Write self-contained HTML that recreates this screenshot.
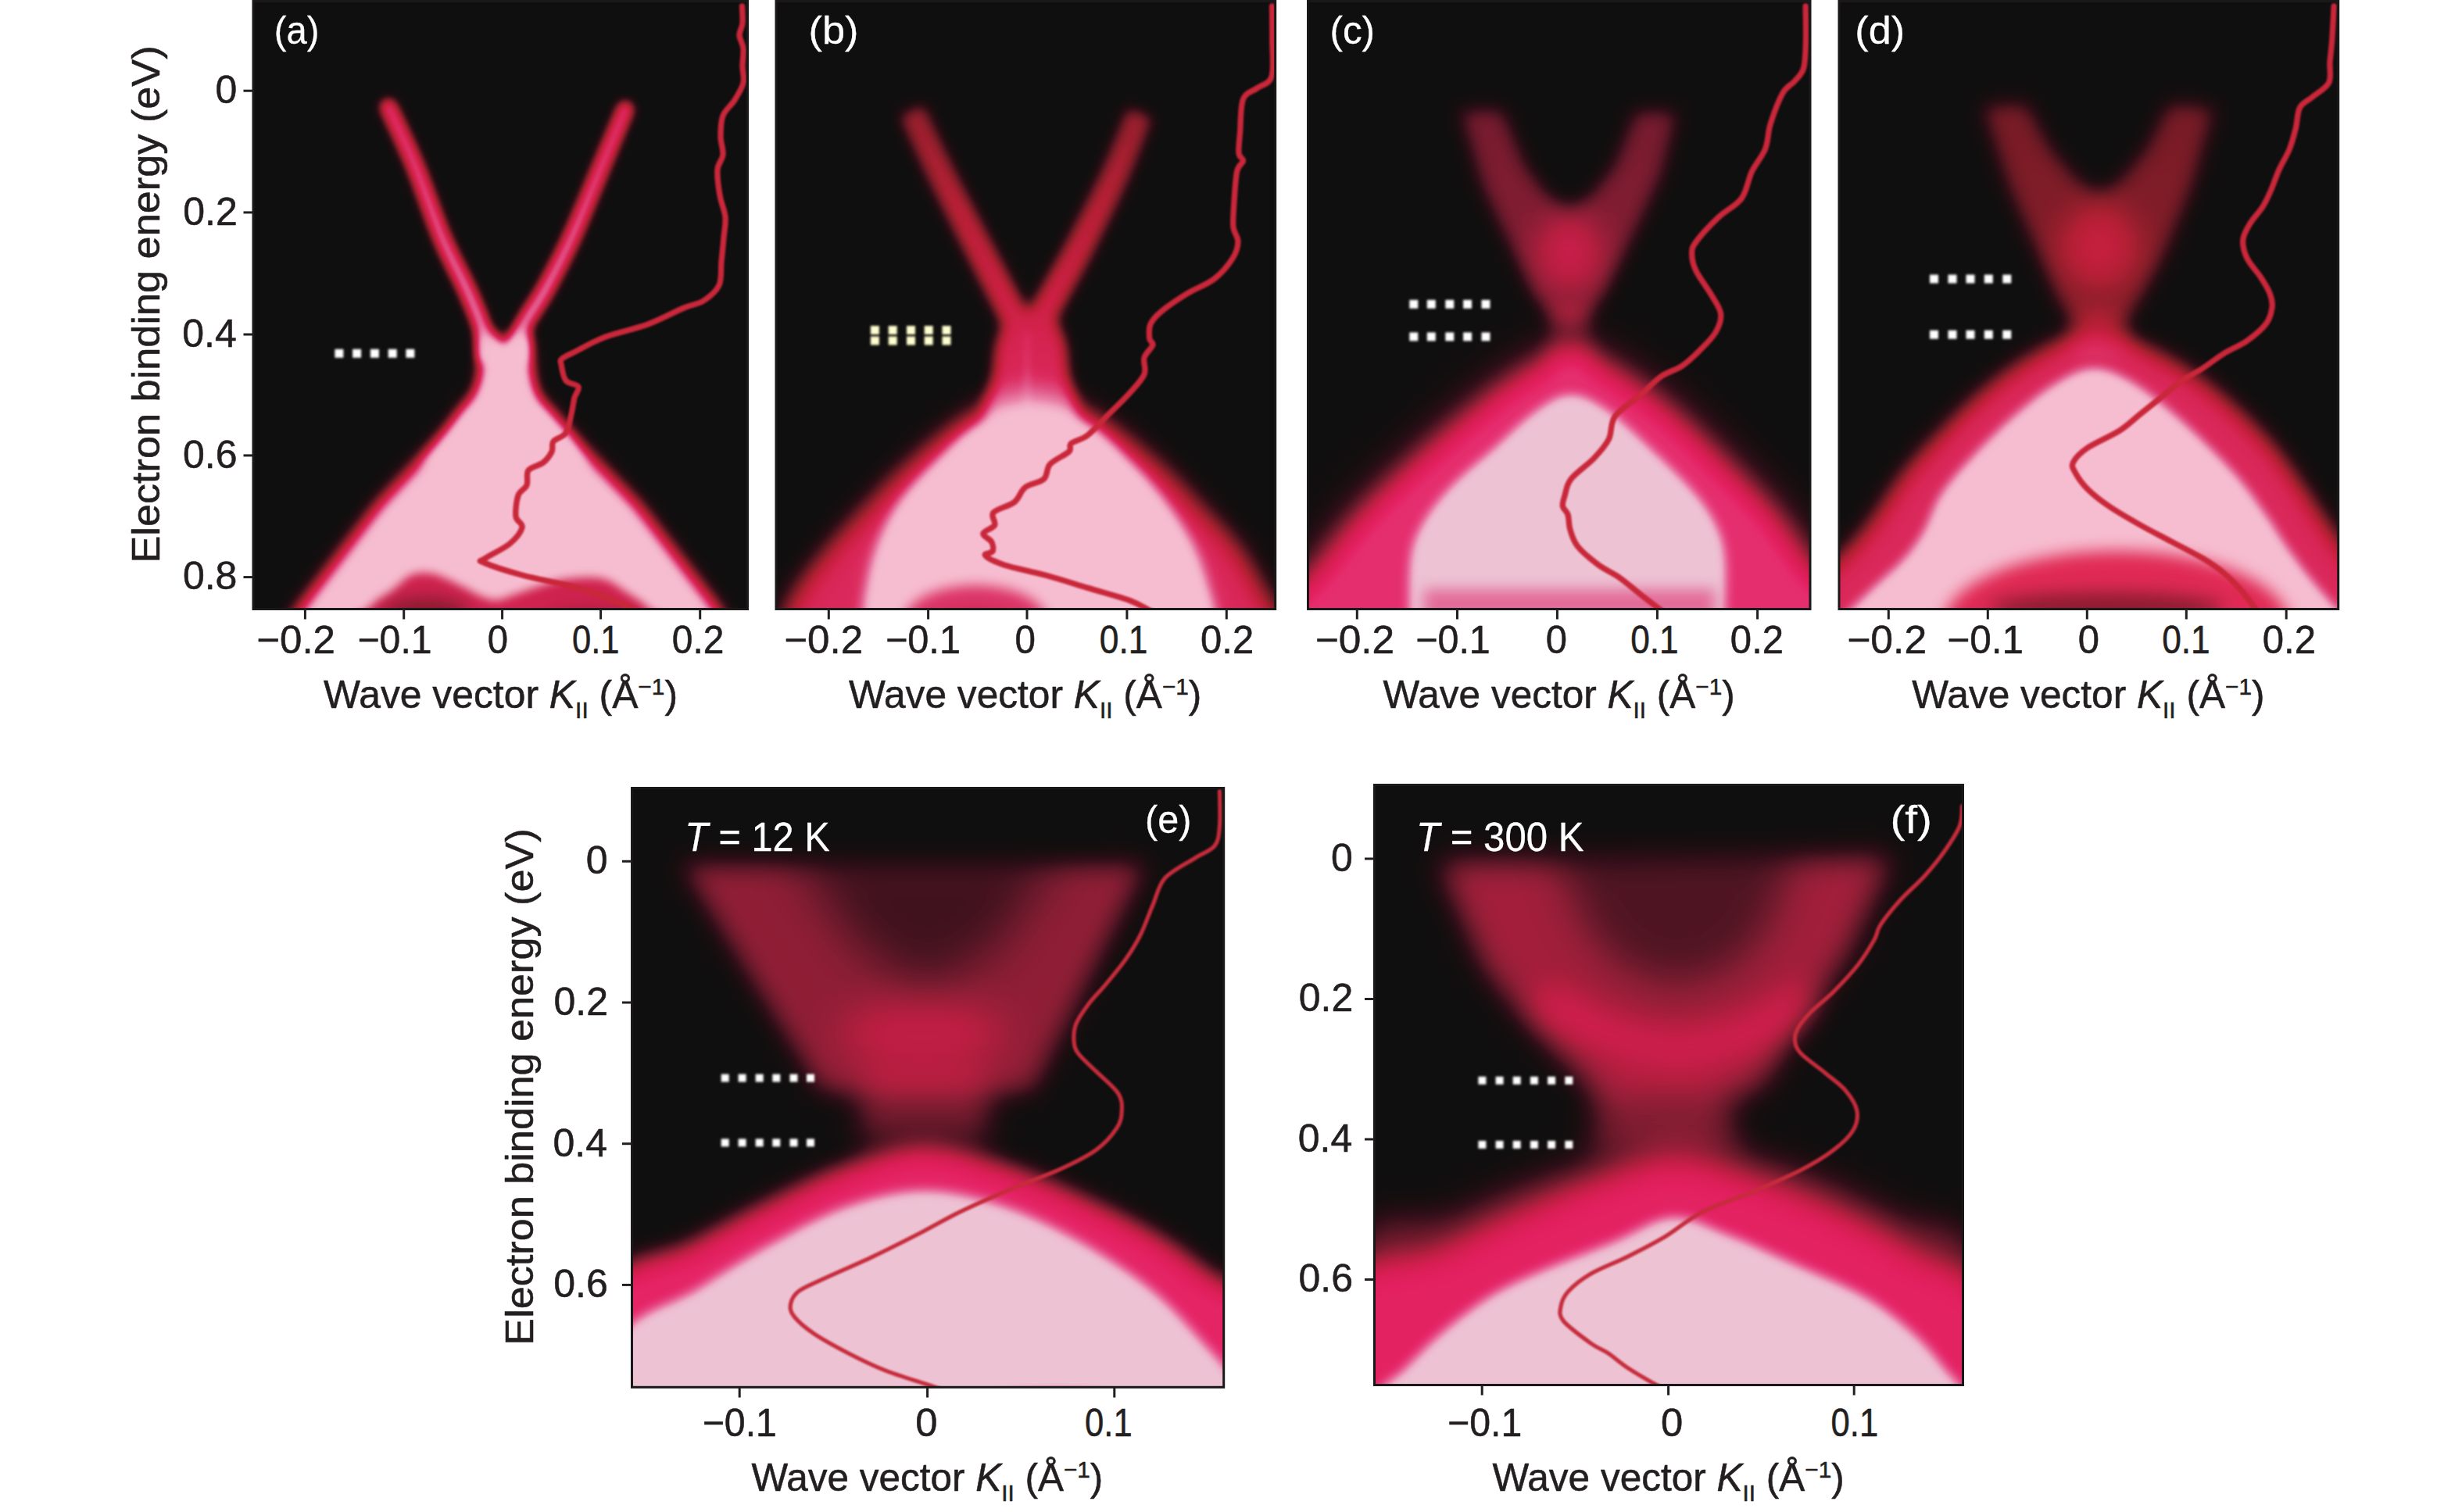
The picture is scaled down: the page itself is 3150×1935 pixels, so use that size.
<!DOCTYPE html>
<html><head><meta charset="utf-8"><title>ARPES figure</title>
<style>html,body{margin:0;padding:0;background:#fff}svg{display:block;font-family:"Liberation Sans", sans-serif}text{stroke-linejoin:round}text[fill='#231F20']{stroke:#231F20;stroke-width:0.55px}text[fill='#fff']{stroke:#fff;stroke-width:0.3px}</style>
</head><body>
<svg width="3150" height="1935" viewBox="0 0 3150 1935">
<defs>
<linearGradient id="g1" gradientUnits="userSpaceOnUse" x1="0" y1="137" x2="0" y2="455"><stop offset="0" stop-color="#fff" stop-opacity="0.6758"/><stop offset="1" stop-color="#fff" stop-opacity="0.8284"/></linearGradient>
<filter id="bl6_5" filterUnits="userSpaceOnUse" x="0" y="0" width="3150" height="1935" color-interpolation-filters="sRGB"><feGaussianBlur stdDeviation="6.5"/></filter>
<linearGradient id="g2" gradientUnits="userSpaceOnUse" x1="0" y1="140" x2="0" y2="455"><stop offset="0" stop-color="#fff" stop-opacity="0.6758"/><stop offset="1" stop-color="#fff" stop-opacity="0.8284"/></linearGradient>
<filter id="bl9" filterUnits="userSpaceOnUse" x="0" y="0" width="3150" height="1935" color-interpolation-filters="sRGB"><feGaussianBlur stdDeviation="9"/></filter>
<filter id="bl12" filterUnits="userSpaceOnUse" x="0" y="0" width="3150" height="1935" color-interpolation-filters="sRGB"><feGaussianBlur stdDeviation="12"/></filter>
<filter id="bl6" filterUnits="userSpaceOnUse" x="0" y="0" width="3150" height="1935" color-interpolation-filters="sRGB"><feGaussianBlur stdDeviation="6"/></filter>
<filter id="bl11" filterUnits="userSpaceOnUse" x="0" y="0" width="3150" height="1935" color-interpolation-filters="sRGB"><feGaussianBlur stdDeviation="11"/></filter>
<filter id="bl0_8" filterUnits="userSpaceOnUse" x="0" y="0" width="3150" height="1935" color-interpolation-filters="sRGB"><feGaussianBlur stdDeviation="0.8"/></filter>
<filter id="bl1_8" filterUnits="userSpaceOnUse" x="0" y="0" width="3150" height="1935" color-interpolation-filters="sRGB"><feGaussianBlur stdDeviation="1.8"/></filter>
<linearGradient id="g3" gradientUnits="userSpaceOnUse" x1="0" y1="140" x2="0" y2="520"><stop offset="0" stop-color="#fff" stop-opacity="0.3706"/><stop offset="1" stop-color="#fff" stop-opacity="0.654"/></linearGradient>
<mask id="mk1" maskUnits="userSpaceOnUse" x="0" y="0" width="3150" height="1935"><rect x="0" y="0" width="3150" height="1935" fill="url(#g3)"/></mask>
<filter id="bl5" filterUnits="userSpaceOnUse" x="0" y="0" width="3150" height="1935" color-interpolation-filters="sRGB"><feGaussianBlur stdDeviation="5"/></filter>
<filter id="bl17" filterUnits="userSpaceOnUse" x="0" y="0" width="3150" height="1935" color-interpolation-filters="sRGB"><feGaussianBlur stdDeviation="17"/></filter>
<filter id="bl10" filterUnits="userSpaceOnUse" x="0" y="0" width="3150" height="1935" color-interpolation-filters="sRGB"><feGaussianBlur stdDeviation="10"/></filter>
<filter id="bl8" filterUnits="userSpaceOnUse" x="0" y="0" width="3150" height="1935" color-interpolation-filters="sRGB"><feGaussianBlur stdDeviation="8"/></filter>
<linearGradient id="g4" gradientUnits="userSpaceOnUse" x1="0" y1="140" x2="0" y2="400"><stop offset="0" stop-color="#fff" stop-opacity="0.2943"/><stop offset="1" stop-color="#fff" stop-opacity="0.3379"/></linearGradient>
<filter id="bl20" filterUnits="userSpaceOnUse" x="0" y="0" width="3150" height="1935" color-interpolation-filters="sRGB"><feGaussianBlur stdDeviation="20"/></filter>
<filter id="bl24" filterUnits="userSpaceOnUse" x="0" y="0" width="3150" height="1935" color-interpolation-filters="sRGB"><feGaussianBlur stdDeviation="24"/></filter>
<filter id="bl15" filterUnits="userSpaceOnUse" x="0" y="0" width="3150" height="1935" color-interpolation-filters="sRGB"><feGaussianBlur stdDeviation="15"/></filter>
<linearGradient id="g5" gradientUnits="userSpaceOnUse" x1="0" y1="135" x2="0" y2="410"><stop offset="0" stop-color="#fff" stop-opacity="0.2943"/><stop offset="1" stop-color="#fff" stop-opacity="0.3379"/></linearGradient>
<filter id="bl13" filterUnits="userSpaceOnUse" x="0" y="0" width="3150" height="1935" color-interpolation-filters="sRGB"><feGaussianBlur stdDeviation="13"/></filter>
<filter id="bl21" filterUnits="userSpaceOnUse" x="0" y="0" width="3150" height="1935" color-interpolation-filters="sRGB"><feGaussianBlur stdDeviation="21"/></filter>
<filter id="bl30" filterUnits="userSpaceOnUse" x="0" y="0" width="3150" height="1935" color-interpolation-filters="sRGB"><feGaussianBlur stdDeviation="30"/></filter>
<filter id="bl28" filterUnits="userSpaceOnUse" x="0" y="0" width="3150" height="1935" color-interpolation-filters="sRGB"><feGaussianBlur stdDeviation="28"/></filter>
<filter id="bl3" filterUnits="userSpaceOnUse" x="0" y="0" width="3150" height="1935" color-interpolation-filters="sRGB"><feGaussianBlur stdDeviation="3"/></filter>
<filter id="bl26" filterUnits="userSpaceOnUse" x="0" y="0" width="3150" height="1935" color-interpolation-filters="sRGB"><feGaussianBlur stdDeviation="26"/></filter>
<filter id="bl22" filterUnits="userSpaceOnUse" x="0" y="0" width="3150" height="1935" color-interpolation-filters="sRGB"><feGaussianBlur stdDeviation="22"/></filter>
<filter id="bl18" filterUnits="userSpaceOnUse" x="0" y="0" width="3150" height="1935" color-interpolation-filters="sRGB"><feGaussianBlur stdDeviation="18"/></filter>
<clipPath id="cpa"><rect x="323" y="0.5" width="634.5" height="780.0"/></clipPath>
<filter id="cma" filterUnits="userSpaceOnUse" x="321" y="-1.5" width="638.5" height="784.0" color-interpolation-filters="sRGB"><feComponentTransfer><feFuncR type="table" tableValues="0.063 0.083 0.105 0.142 0.178 0.225 0.282 0.338 0.394 0.448 0.502 0.555 0.604 0.653 0.702 0.734 0.765 0.795 0.817 0.836 0.854 0.867 0.874 0.882 0.894 0.906 0.919 0.933 0.947 0.953 0.959 0.962 0.965"/><feFuncG type="table" tableValues="0.059 0.057 0.055 0.057 0.058 0.065 0.076 0.087 0.096 0.104 0.111 0.118 0.120 0.123 0.125 0.125 0.125 0.125 0.133 0.142 0.152 0.189 0.250 0.311 0.380 0.449 0.518 0.587 0.656 0.693 0.725 0.740 0.745"/><feFuncB type="table" tableValues="0.059 0.061 0.064 0.074 0.085 0.097 0.111 0.124 0.136 0.146 0.156 0.166 0.178 0.191 0.203 0.222 0.242 0.261 0.288 0.317 0.347 0.391 0.449 0.507 0.561 0.615 0.666 0.714 0.761 0.785 0.804 0.813 0.816"/></feComponentTransfer></filter>
<clipPath id="cpb"><rect x="992" y="0.5" width="640.7" height="780.0"/></clipPath>
<filter id="cmb" filterUnits="userSpaceOnUse" x="990" y="-1.5" width="644.7" height="784.0" color-interpolation-filters="sRGB"><feComponentTransfer><feFuncR type="table" tableValues="0.063 0.083 0.105 0.142 0.178 0.225 0.282 0.338 0.394 0.448 0.502 0.555 0.604 0.653 0.702 0.734 0.765 0.795 0.817 0.836 0.854 0.867 0.874 0.882 0.894 0.906 0.919 0.933 0.947 0.953 0.959 0.962 0.965"/><feFuncG type="table" tableValues="0.059 0.057 0.055 0.057 0.058 0.065 0.076 0.087 0.096 0.104 0.111 0.118 0.120 0.123 0.125 0.125 0.125 0.125 0.133 0.142 0.152 0.189 0.250 0.311 0.380 0.449 0.518 0.587 0.656 0.693 0.725 0.740 0.745"/><feFuncB type="table" tableValues="0.059 0.061 0.064 0.074 0.085 0.097 0.111 0.124 0.136 0.146 0.156 0.166 0.178 0.191 0.203 0.222 0.242 0.261 0.288 0.317 0.347 0.391 0.449 0.507 0.561 0.615 0.666 0.714 0.761 0.785 0.804 0.813 0.816"/></feComponentTransfer></filter>
<clipPath id="cpc"><rect x="1672.5" y="0.5" width="644.5" height="780.0"/></clipPath>
<filter id="cmc" filterUnits="userSpaceOnUse" x="1670.5" y="-1.5" width="648.5" height="784.0" color-interpolation-filters="sRGB"><feComponentTransfer><feFuncR type="table" tableValues="0.063 0.083 0.105 0.142 0.178 0.225 0.282 0.338 0.394 0.448 0.502 0.555 0.608 0.661 0.713 0.750 0.786 0.821 0.846 0.867 0.888 0.900 0.903 0.906 0.910 0.915 0.920 0.926 0.932 0.933 0.933 0.933 0.933"/><feFuncG type="table" tableValues="0.059 0.057 0.055 0.057 0.058 0.065 0.076 0.087 0.096 0.104 0.111 0.118 0.118 0.118 0.118 0.118 0.118 0.118 0.119 0.122 0.124 0.160 0.226 0.291 0.368 0.444 0.521 0.597 0.674 0.713 0.744 0.760 0.765"/><feFuncB type="table" tableValues="0.059 0.061 0.064 0.078 0.091 0.108 0.126 0.144 0.162 0.178 0.194 0.209 0.223 0.236 0.250 0.269 0.289 0.308 0.330 0.352 0.374 0.414 0.470 0.527 0.578 0.628 0.678 0.727 0.776 0.800 0.820 0.829 0.831"/></feComponentTransfer></filter>
<clipPath id="cpd"><rect x="2352" y="0.5" width="640.6999999999998" height="780.0"/></clipPath>
<filter id="cmd" filterUnits="userSpaceOnUse" x="2350" y="-1.5" width="644.6999999999998" height="784.0" color-interpolation-filters="sRGB"><feComponentTransfer><feFuncR type="table" tableValues="0.063 0.083 0.105 0.142 0.178 0.225 0.282 0.338 0.394 0.448 0.502 0.555 0.604 0.653 0.702 0.734 0.765 0.795 0.817 0.836 0.854 0.867 0.874 0.882 0.894 0.906 0.919 0.933 0.947 0.953 0.959 0.962 0.965"/><feFuncG type="table" tableValues="0.059 0.057 0.055 0.057 0.058 0.065 0.076 0.087 0.096 0.104 0.111 0.118 0.120 0.123 0.125 0.125 0.125 0.125 0.133 0.142 0.152 0.189 0.250 0.311 0.380 0.449 0.518 0.587 0.656 0.693 0.725 0.740 0.745"/><feFuncB type="table" tableValues="0.059 0.061 0.064 0.074 0.085 0.097 0.111 0.124 0.136 0.146 0.156 0.166 0.178 0.191 0.203 0.222 0.242 0.261 0.288 0.317 0.347 0.391 0.449 0.507 0.561 0.615 0.666 0.714 0.761 0.785 0.804 0.813 0.816"/></feComponentTransfer></filter>
<clipPath id="cpe"><rect x="807.5" y="1007.5" width="759.2" height="768.8"/></clipPath>
<filter id="cme" filterUnits="userSpaceOnUse" x="805.5" y="1005.5" width="763.2" height="772.8" color-interpolation-filters="sRGB"><feComponentTransfer><feFuncR type="table" tableValues="0.063 0.083 0.105 0.142 0.178 0.225 0.282 0.338 0.394 0.448 0.502 0.555 0.608 0.661 0.713 0.750 0.786 0.821 0.846 0.867 0.888 0.900 0.903 0.906 0.910 0.915 0.920 0.926 0.932 0.933 0.933 0.933 0.933"/><feFuncG type="table" tableValues="0.059 0.057 0.055 0.057 0.058 0.065 0.076 0.087 0.096 0.104 0.111 0.118 0.118 0.118 0.118 0.118 0.118 0.118 0.119 0.122 0.124 0.160 0.226 0.291 0.368 0.444 0.521 0.597 0.674 0.713 0.744 0.760 0.765"/><feFuncB type="table" tableValues="0.059 0.061 0.064 0.078 0.091 0.108 0.126 0.144 0.162 0.178 0.194 0.209 0.223 0.236 0.250 0.269 0.289 0.308 0.330 0.352 0.374 0.414 0.470 0.527 0.578 0.628 0.678 0.727 0.776 0.800 0.820 0.829 0.831"/></feComponentTransfer></filter>
<clipPath id="cpf"><rect x="1757.5" y="1003.5" width="755.0" height="770.0"/></clipPath>
<filter id="cmf" filterUnits="userSpaceOnUse" x="1755.5" y="1001.5" width="759.0" height="774.0" color-interpolation-filters="sRGB"><feComponentTransfer><feFuncR type="table" tableValues="0.063 0.083 0.105 0.142 0.178 0.225 0.282 0.338 0.394 0.448 0.502 0.555 0.608 0.661 0.713 0.750 0.786 0.821 0.846 0.867 0.888 0.900 0.903 0.906 0.910 0.915 0.920 0.926 0.932 0.933 0.933 0.933 0.933"/><feFuncG type="table" tableValues="0.059 0.057 0.055 0.057 0.058 0.065 0.076 0.087 0.096 0.104 0.111 0.118 0.118 0.118 0.118 0.118 0.118 0.118 0.119 0.122 0.124 0.160 0.226 0.291 0.368 0.444 0.521 0.597 0.674 0.713 0.744 0.760 0.765"/><feFuncB type="table" tableValues="0.059 0.061 0.064 0.078 0.091 0.108 0.126 0.144 0.162 0.178 0.194 0.209 0.223 0.236 0.250 0.269 0.289 0.308 0.330 0.352 0.374 0.414 0.470 0.527 0.578 0.628 0.678 0.727 0.776 0.800 0.820 0.829 0.831"/></feComponentTransfer></filter>
</defs>
<rect width="3150" height="1935" fill="#fff"/>
<g clip-path="url(#cpa)">
<g filter="url(#cma)"><rect x="318" y="-4.5" width="644.5" height="790.0" fill="#000"/>
<path d="M497.0,137.0 C502.7,149.5 519.5,184.0 531.0,212.0 C542.5,240.0 554.8,278.3 566.0,305.0 C577.2,331.7 589.5,352.8 598.0,372.0 C606.5,391.2 613.0,406.2 617.0,420.0 C621.0,433.8 621.2,449.2 622.0,455.0" fill="none" stroke="url(#g1)" stroke-width="22" stroke-linecap="round" stroke-linejoin="round" filter="url(#bl6_5)"/>
<path d="M800.0,140.0 C795.0,152.0 781.5,184.5 770.0,212.0 C758.5,239.5 743.2,278.3 731.0,305.0 C718.8,331.7 707.5,352.8 697.0,372.0 C686.5,391.2 673.5,406.2 668.0,420.0 C662.5,433.8 664.7,449.2 664.0,455.0" fill="none" stroke="url(#g2)" stroke-width="22" stroke-linecap="round" stroke-linejoin="round" filter="url(#bl6_5)"/>
<path d="M616.0,430.0 L613.0,480.0 L601.0,520.0 L570.0,560.0 L540.0,600.0 L750.0,600.0 L728.0,560.0 L692.0,520.0 L682.0,480.0 L679.0,430.0 L662.0,424.0 L645.0,438.0 L630.0,424.0Z" fill="#fff" fill-opacity="1.0" filter="url(#bl9)"/>
<path d="M599.1,514.1 L572.7,551.0 L483.7,646.1 L381.5,780.3 L309.4,902.9 L980.6,902.9 L919.5,780.3 L816.3,646.1 L724.2,551.0 L692.8,514.1Z" fill="#fff" fill-opacity="1.0" filter="url(#bl12)"/>
</g>
<path d="M458.0,810.0 C395.8,804.7 464.5,787.2 472.0,778.0 C479.5,768.8 494.7,761.7 503.0,755.0 C511.3,748.3 515.8,741.7 522.0,738.0 C528.2,734.3 533.7,733.3 540.0,733.0 C546.3,732.7 551.7,733.2 560.0,736.0 C568.3,738.8 580.8,745.5 590.0,750.0 C599.2,754.5 607.5,760.0 615.0,763.0 C622.5,766.0 628.3,768.2 635.0,768.0 C641.7,767.8 645.8,765.0 655.0,762.0 C664.2,759.0 679.5,753.3 690.0,750.0 C700.5,746.7 707.2,743.8 718.0,742.0 C728.8,740.2 745.0,738.8 755.0,739.0 C765.0,739.2 770.5,740.0 778.0,743.0 C785.5,746.0 791.3,751.0 800.0,757.0 C808.7,763.0 822.5,770.2 830.0,779.0 C837.5,787.8 907.0,804.8 845.0,810.0 C783.0,815.2 520.2,815.3 458.0,810.0Z" fill="#D0234F" filter="url(#bl6)"/>
<ellipse cx="545" cy="786" rx="55" ry="22" fill="#8A1A30" filter="url(#bl11)"/>
<ellipse cx="752" cy="792" rx="60" ry="16" fill="#B01E40" filter="url(#bl11)"/>
<path d="M949.5,8.0 C949.6,11.7 950.6,23.8 950.0,30.0 C949.4,36.2 945.8,39.7 946.0,45.0 C946.2,50.3 950.3,55.3 951.0,62.0 C951.7,68.7 950.0,77.7 950.0,85.0 C950.0,92.3 952.7,98.8 951.0,106.0 C949.3,113.2 944.3,121.0 940.0,128.0 C935.7,135.0 928.0,140.2 925.0,148.0 C922.0,155.8 922.0,166.7 922.0,175.0 C922.0,183.3 925.7,191.0 925.0,198.0 C924.3,205.0 918.7,208.3 918.0,217.0 C917.3,225.7 919.3,239.8 921.0,250.0 C922.7,260.2 927.2,269.0 928.0,278.0 C928.8,287.0 926.8,294.5 926.0,304.0 C925.2,313.5 924.0,324.8 923.0,335.0 C922.0,345.2 923.8,356.7 920.0,365.0 C916.2,373.3 907.5,380.2 900.0,385.0 C892.5,389.8 886.8,389.0 875.0,394.0 C863.2,399.0 845.7,408.8 829.0,415.0 C812.3,421.2 790.2,425.3 775.0,431.0 C759.8,436.7 747.3,444.3 738.0,449.0 C728.7,453.7 722.3,456.2 719.0,459.0 C715.7,461.8 717.2,461.3 718.0,466.0 C718.8,470.7 720.3,482.2 724.0,487.0 C727.7,491.8 738.2,491.3 740.0,495.0 C741.8,498.7 736.5,503.2 735.0,509.0 C733.5,514.8 732.8,522.5 731.0,530.0 C729.2,537.5 727.8,548.2 724.0,554.0 C720.2,559.8 711.0,561.0 708.0,565.0 C705.0,569.0 708.2,573.5 706.0,578.0 C703.8,582.5 700.0,588.0 695.0,592.0 C690.0,596.0 679.5,597.2 676.0,602.0 C672.5,606.8 676.2,615.7 674.0,621.0 C671.8,626.3 665.3,627.3 663.0,634.0 C660.7,640.7 659.2,654.2 660.0,661.0 C660.8,667.8 669.3,669.2 668.0,675.0 C666.7,680.8 660.0,689.3 652.0,696.0 C644.0,702.7 625.5,711.0 620.0,715.0 C614.5,719.0 611.0,716.5 619.0,720.0 C627.0,723.5 646.3,730.2 668.0,736.0 C689.7,741.8 725.3,747.8 749.0,755.0 C772.7,762.2 796.5,773.2 810.0,779.0 C823.5,784.8 826.7,788.2 830.0,790.0" fill="none" stroke="#C9273A" stroke-width="7.4" stroke-linecap="round" stroke-linejoin="round" filter="url(#bl0_8)"/>
<rect x="428.4" y="446.8" width="11.0" height="11.0" fill="#fff" filter="url(#bl1_8)"/>
<rect x="451.1" y="446.8" width="11.0" height="11.0" fill="#fff" filter="url(#bl1_8)"/>
<rect x="473.9" y="446.8" width="11.0" height="11.0" fill="#fff" filter="url(#bl1_8)"/>
<rect x="496.7" y="446.8" width="11.0" height="11.0" fill="#fff" filter="url(#bl1_8)"/>
<rect x="519.4" y="446.8" width="11.0" height="11.0" fill="#fff" filter="url(#bl1_8)"/>
</g>
<rect x="324" y="1.5" width="632.5" height="778.0" fill="none" stroke="#1B1819" stroke-width="3"/>
<g clip-path="url(#cpb)">
<g filter="url(#cmb)"><rect x="987" y="-4.5" width="650.7" height="790.0" fill="#000"/>
<g mask="url(#mk1)"><g filter="url(#bl9)"><path d="M1166.0,140.0 C1172.2,153.3 1188.7,190.5 1203.0,220.0 C1217.3,249.5 1238.0,289.5 1252.0,317.0 C1266.0,344.5 1278.0,367.0 1287.0,385.0 C1296.0,403.0 1301.8,410.8 1306.0,425.0 C1310.2,439.2 1311.0,462.5 1312.0,470.0" fill="none" stroke="#fff" stroke-width="36" stroke-linecap="butt" stroke-linejoin="round"/><path d="M1459.0,143.0 C1453.5,156.7 1439.0,196.0 1426.0,225.0 C1413.0,254.0 1394.7,290.3 1381.0,317.0 C1367.3,343.7 1353.5,367.0 1344.0,385.0 C1334.5,403.0 1328.3,410.8 1324.0,425.0 C1319.7,439.2 1319.0,462.5 1318.0,470.0" fill="none" stroke="#fff" stroke-width="36" stroke-linecap="butt" stroke-linejoin="round"/><path d="M1296.0,400.0 C1307.0,394.2 1331.0,394.2 1342.0,400.0 C1353.0,405.8 1357.8,422.5 1362.0,435.0 C1366.2,447.5 1365.3,456.7 1367.0,475.0 C1368.7,493.3 1388.8,533.3 1372.0,545.0 C1355.2,556.7 1282.8,556.7 1266.0,545.0 C1249.2,533.3 1269.3,493.3 1271.0,475.0 C1272.7,456.7 1271.8,447.5 1276.0,435.0 C1280.2,422.5 1285.0,405.8 1296.0,400.0Z" fill="#fff"/></g></g>
<path d="M1314.0,430.0 L1314.0,530.0" fill="none" stroke="#fff" stroke-opacity="0.1526" stroke-width="10" stroke-linecap="round" stroke-linejoin="round" filter="url(#bl5)"/>
<path d="M1319.0,500.0 C1292.3,500.0 1266.3,514.3 1240.0,530.0 C1213.7,545.7 1183.0,574.3 1161.0,594.0 C1139.0,613.7 1124.8,630.2 1108.0,648.0 C1091.2,665.8 1074.8,683.2 1060.0,701.0 C1045.2,718.8 1029.0,738.5 1019.0,755.0 C1009.0,771.5 1004.8,775.8 1000.0,800.0 C995.2,824.2 881.7,883.3 990.0,900.0 C1098.3,916.7 1541.7,916.7 1650.0,900.0 C1758.3,883.3 1645.5,824.2 1640.0,800.0 C1634.5,775.8 1626.2,771.5 1617.0,755.0 C1607.8,738.5 1598.5,718.8 1585.0,701.0 C1571.5,683.2 1553.0,665.8 1536.0,648.0 C1519.0,630.2 1505.7,613.7 1483.0,594.0 C1460.3,574.3 1427.3,545.7 1400.0,530.0 C1372.7,514.3 1345.7,500.0 1319.0,500.0Z" fill="#fff" fill-opacity="0.6322" filter="url(#bl17)"/>
<path d="M1319.0,518.0 C1295.7,518.0 1272.7,525.3 1252.2,536.5 C1231.6,547.8 1213.2,568.0 1195.6,585.5 C1177.9,602.9 1159.1,622.4 1146.1,641.2 C1133.2,659.9 1124.8,679.2 1117.8,697.8 C1110.8,716.4 1107.1,736.0 1104.2,752.9 C1101.2,769.9 1099.5,773.0 1100.0,799.5 C1100.5,826.0 1031.9,893.0 1107.3,911.7 C1182.8,930.4 1477.2,930.5 1552.7,911.7 C1628.1,892.9 1560.3,825.8 1560.0,799.1 C1559.6,772.4 1555.4,768.8 1550.5,751.7 C1545.7,734.6 1539.9,715.1 1530.8,696.7 C1521.6,678.2 1508.5,658.4 1495.7,640.9 C1482.8,623.4 1470.8,609.0 1453.5,591.6 C1436.2,574.2 1414.2,548.8 1391.8,536.5 C1369.4,524.3 1342.3,518.0 1319.0,518.0Z" fill="#fff" fill-opacity="0.327" filter="url(#bl10)"/>
<path d="M1319.0,526.0 C1297.0,526.0 1275.7,532.6 1256.1,543.5 C1236.4,554.4 1218.4,574.1 1201.2,591.2 C1184.0,608.2 1165.4,627.5 1152.7,645.7 C1140.1,664.0 1132.0,682.5 1125.3,700.6 C1118.5,718.7 1114.9,737.8 1112.1,754.3 C1109.2,770.9 1108.5,774.9 1108.0,799.8 C1107.5,824.8 1035.3,886.6 1109.1,903.9 C1182.9,921.2 1477.1,921.3 1550.9,903.9 C1624.7,886.5 1553.3,824.7 1552.0,799.7 C1550.6,774.7 1547.6,770.5 1542.8,753.9 C1538.1,737.3 1532.5,718.3 1523.6,700.2 C1514.6,682.2 1501.8,662.8 1489.2,645.6 C1476.6,628.5 1464.7,614.2 1447.8,597.2 C1431.0,580.2 1409.4,555.4 1387.9,543.5 C1366.5,531.6 1341.0,526.0 1319.0,526.0Z" fill="#fff" fill-opacity="1.0" filter="url(#bl8)"/>
</g>
<ellipse cx="1248" cy="797" rx="92" ry="48" fill="#DC3568" filter="url(#bl8)"/>
<ellipse cx="1248" cy="806" rx="62" ry="26" fill="#C8234E" filter="url(#bl9)"/>
<path d="M1627.6,8.0 C1627.6,15.0 1627.9,35.0 1627.8,50.0 C1627.7,65.0 1630.3,87.5 1627.0,98.0 C1623.7,108.5 1614.1,108.2 1608.0,113.0 C1601.9,117.8 1594.1,117.7 1590.5,127.0 C1586.9,136.3 1587.5,157.5 1586.6,169.0 C1585.7,180.5 1584.3,189.8 1585.0,196.0 C1585.7,202.2 1590.9,202.1 1590.5,206.0 C1590.1,209.9 1584.6,209.8 1582.6,219.6 C1580.6,229.4 1579.4,252.7 1578.6,264.6 C1577.8,276.5 1577.1,283.5 1578.0,291.0 C1578.9,298.5 1584.2,302.9 1584.0,309.5 C1583.8,316.1 1582.1,322.8 1577.0,330.7 C1571.9,338.6 1563.2,349.5 1553.5,357.0 C1543.8,364.5 1530.3,368.7 1519.0,375.7 C1507.7,382.7 1493.4,392.3 1485.6,398.8 C1477.8,405.3 1474.5,409.0 1472.0,414.8 C1469.5,420.6 1470.3,429.1 1470.8,433.6 C1471.3,438.1 1476.0,437.6 1474.9,441.6 C1473.8,445.6 1465.8,451.5 1464.0,457.7 C1462.2,463.9 1467.1,471.4 1464.0,479.0 C1460.9,486.6 1453.0,494.5 1445.4,503.0 C1437.8,511.5 1427.5,521.0 1418.6,530.0 C1409.7,539.0 1399.8,550.5 1391.8,556.8 C1383.8,563.0 1374.4,564.0 1370.4,567.5 C1366.4,571.0 1372.2,573.6 1367.7,578.0 C1363.2,582.4 1348.9,588.2 1343.6,594.0 C1338.2,599.8 1340.9,608.0 1335.6,613.0 C1330.2,618.0 1317.8,618.9 1311.5,623.8 C1305.2,628.7 1304.8,637.1 1298.0,642.5 C1291.2,647.9 1275.2,651.1 1271.0,656.0 C1266.8,660.9 1274.8,667.5 1272.6,672.0 C1270.4,676.5 1258.6,679.1 1257.9,682.7 C1257.2,686.3 1266.6,689.6 1268.6,693.4 C1270.6,697.2 1271.3,702.6 1270.0,705.5 C1268.7,708.4 1258.1,707.9 1260.6,710.8 C1263.0,713.7 1271.8,718.6 1284.7,722.9 C1297.6,727.1 1320.4,731.4 1338.2,736.3 C1356.0,741.2 1373.9,747.0 1391.8,752.4 C1409.7,757.8 1432.0,763.5 1445.4,768.4 C1458.8,773.3 1464.6,777.9 1472.0,781.8 C1479.4,785.7 1487.0,790.3 1490.0,792.0" fill="none" stroke="#C9273A" stroke-width="7.4" stroke-linecap="round" stroke-linejoin="round" filter="url(#bl0_8)"/>
<rect x="1113.9" y="417.0" width="11.0" height="11.0" fill="#FFFFD0" filter="url(#bl1_8)"/>
<rect x="1136.7" y="417.0" width="11.0" height="11.0" fill="#FFFFD0" filter="url(#bl1_8)"/>
<rect x="1160.0" y="417.0" width="11.0" height="11.0" fill="#FFFFD0" filter="url(#bl1_8)"/>
<rect x="1182.7" y="417.0" width="11.0" height="11.0" fill="#FFFFD0" filter="url(#bl1_8)"/>
<rect x="1205.5" y="417.0" width="11.0" height="11.0" fill="#FFFFD0" filter="url(#bl1_8)"/>
<rect x="1113.9" y="430.5" width="11.0" height="11.0" fill="#FFFFD0" filter="url(#bl1_8)"/>
<rect x="1136.7" y="430.5" width="11.0" height="11.0" fill="#FFFFD0" filter="url(#bl1_8)"/>
<rect x="1160.0" y="430.5" width="11.0" height="11.0" fill="#FFFFD0" filter="url(#bl1_8)"/>
<rect x="1182.7" y="430.5" width="11.0" height="11.0" fill="#FFFFD0" filter="url(#bl1_8)"/>
<rect x="1205.5" y="430.5" width="11.0" height="11.0" fill="#FFFFD0" filter="url(#bl1_8)"/>
</g>
<rect x="993" y="1.5" width="638.7" height="778.0" fill="none" stroke="#1B1819" stroke-width="3"/>
<g clip-path="url(#cpc)">
<g filter="url(#cmc)"><rect x="1667.5" y="-4.5" width="654.5" height="790.0" fill="#000"/>
<path d="M1866.0,140.0 L1895.0,238.0 L1932.0,317.0 L1964.0,384.0 L1988.0,412.0 L2028.0,412.0 L2050.0,384.0 L2090.0,304.0 L2127.0,225.0 L2148.0,142.0 L2092.0,140.0 L2064.0,212.0 L2034.0,250.0 L2008.0,266.0 L1982.0,250.0 L1953.0,212.0 L1923.0,138.0Z" fill="url(#g4)" filter="url(#bl12)"/>
<ellipse cx="2008" cy="322" rx="40" ry="46" fill="#fff" fill-opacity="0.2725" filter="url(#bl20)"/>
<path d="M1988.0,395.0 L2030.0,395.0 L2040.0,470.0 L1978.0,470.0Z" fill="#fff" fill-opacity="0.1853" filter="url(#bl12)"/>
<path d="M2010.0,425.0 C1981.8,425.0 1950.2,449.6 1925.5,464.3 C1900.7,479.0 1883.8,494.9 1861.5,513.2 C1839.1,531.5 1814.8,552.5 1791.6,573.9 C1768.3,595.3 1742.9,618.6 1721.8,641.6 C1700.8,664.5 1684.2,687.7 1665.2,711.5 C1646.2,735.2 1613.1,745.4 1607.9,784.2 C1602.6,823.0 1508.8,917.8 1633.6,944.5 C1758.5,971.3 2231.2,972.4 2356.9,944.5 C2482.7,916.5 2391.6,816.4 2388.1,776.9 C2384.5,737.5 2352.2,730.0 2335.8,707.7 C2319.3,685.4 2308.1,665.1 2289.4,643.0 C2270.7,620.9 2245.4,596.6 2223.7,575.1 C2202.0,553.5 2180.9,532.4 2159.4,513.9 C2137.8,495.4 2119.4,479.1 2094.5,464.3 C2069.6,449.5 2038.2,425.0 2010.0,425.0Z" fill="#fff" fill-opacity="0.2725" filter="url(#bl24)"/>
<path d="M2010.0,451.0 C1986.5,451.0 1961.7,472.4 1939.6,486.1 C1917.6,499.8 1899.7,515.5 1877.9,533.3 C1856.2,551.1 1832.0,572.0 1809.1,593.0 C1786.3,614.0 1761.6,636.7 1741.0,659.2 C1720.4,681.6 1703.4,705.6 1685.3,727.9 C1667.2,750.3 1640.2,761.5 1632.2,793.3 C1624.2,825.1 1517.2,897.9 1637.3,918.8 C1757.4,939.7 2232.0,941.2 2352.9,918.8 C2473.9,896.4 2369.5,817.0 2363.2,784.5 C2356.9,751.9 2330.7,744.3 2315.1,723.5 C2299.5,702.7 2287.8,681.4 2269.5,659.7 C2251.2,638.1 2226.6,614.5 2205.4,593.5 C2184.2,572.5 2163.2,551.5 2142.4,533.6 C2121.6,515.7 2102.4,499.8 2080.4,486.1 C2058.3,472.3 2033.5,451.0 2010.0,451.0Z" fill="#fff" fill-opacity="0.545" filter="url(#bl15)"/>
<path d="M2010.0,507.0 C1995.1,507.0 1982.9,516.1 1966.7,527.5 C1950.5,538.8 1930.9,559.3 1913.0,575.2 C1895.1,591.2 1874.2,607.2 1859.2,623.1 C1844.1,638.9 1831.3,655.1 1822.6,670.5 C1813.9,685.9 1809.9,693.8 1807.0,715.4 C1804.0,737.0 1806.0,769.8 1805.0,800.1 C1804.0,830.3 1733.0,880.9 1800.7,897.1 C1868.4,913.3 2143.9,913.3 2211.3,897.1 C2278.7,880.9 2206.0,830.4 2205.0,800.1 C2204.0,769.8 2207.1,736.9 2205.0,715.3 C2202.9,693.7 2199.3,684.9 2192.3,670.3 C2185.3,655.7 2176.5,643.8 2162.7,628.0 C2149.0,612.1 2127.7,591.9 2109.9,575.2 C2092.2,558.4 2073.0,538.8 2056.3,527.5 C2039.7,516.1 2024.9,507.0 2010.0,507.0Z" fill="#fff" fill-opacity="1.0" filter="url(#bl8)"/>
</g>
<rect x="1822" y="754" width="372" height="40" fill="#E0558A" fill-opacity="0.8" filter="url(#bl9)"/>
<path d="M2310.2,8.0 C2310.2,15.5 2310.9,39.8 2310.5,53.0 C2310.1,66.2 2310.0,78.8 2307.6,87.3 C2305.2,95.8 2300.4,98.7 2296.0,104.0 C2291.6,109.3 2286.1,109.9 2281.0,119.0 C2275.9,128.1 2268.9,146.8 2265.2,158.7 C2261.5,170.6 2262.6,180.3 2258.6,190.5 C2254.6,200.7 2246.5,209.0 2241.4,219.6 C2236.3,230.2 2235.3,244.3 2228.2,254.0 C2221.1,263.7 2208.7,268.6 2199.0,277.8 C2189.3,287.1 2175.7,301.6 2170.0,309.5 C2164.3,317.4 2164.7,319.2 2164.7,325.4 C2164.7,331.6 2166.0,338.2 2170.0,346.6 C2174.0,355.0 2183.2,366.6 2188.5,375.7 C2193.8,384.8 2200.5,393.1 2201.6,401.4 C2202.7,409.7 2199.6,417.5 2194.9,425.5 C2190.2,433.5 2180.7,442.5 2173.5,449.6 C2166.3,456.8 2160.0,463.0 2152.0,468.4 C2144.0,473.8 2134.2,475.6 2125.3,481.8 C2116.4,488.1 2108.3,497.4 2098.5,505.9 C2088.7,514.4 2073.1,523.3 2066.4,532.7 C2059.7,542.1 2062.8,553.2 2058.3,562.1 C2053.8,571.0 2047.6,577.7 2039.6,586.2 C2031.6,594.7 2016.4,605.0 2010.1,613.0 C2003.8,621.0 2003.8,628.6 2002.0,634.4 C2000.2,640.2 1998.7,643.8 1999.4,647.8 C2000.1,651.8 2004.4,653.6 2006.0,658.5 C2007.6,663.4 2006.8,670.6 2008.8,677.3 C2010.8,684.0 2012.2,691.1 2018.2,698.7 C2024.2,706.3 2036.0,716.1 2044.9,722.8 C2053.8,729.5 2062.8,732.6 2071.7,738.9 C2080.6,745.1 2090.0,753.6 2098.5,760.3 C2107.0,767.0 2115.7,773.7 2122.6,779.0 C2129.5,784.3 2137.1,789.8 2140.0,792.0" fill="none" stroke="#C9273A" stroke-width="7.4" stroke-linecap="round" stroke-linejoin="round" filter="url(#bl0_8)"/>
<rect x="1803.3" y="383.8" width="11.0" height="11.0" fill="#fff" filter="url(#bl1_8)"/>
<rect x="1825.8" y="383.8" width="11.0" height="11.0" fill="#fff" filter="url(#bl1_8)"/>
<rect x="1849.3" y="383.8" width="11.0" height="11.0" fill="#fff" filter="url(#bl1_8)"/>
<rect x="1872.1" y="383.8" width="11.0" height="11.0" fill="#fff" filter="url(#bl1_8)"/>
<rect x="1895.5" y="383.8" width="11.0" height="11.0" fill="#fff" filter="url(#bl1_8)"/>
<rect x="1803.3" y="425.4" width="11.0" height="11.0" fill="#fff" filter="url(#bl1_8)"/>
<rect x="1825.8" y="425.4" width="11.0" height="11.0" fill="#fff" filter="url(#bl1_8)"/>
<rect x="1849.3" y="425.4" width="11.0" height="11.0" fill="#fff" filter="url(#bl1_8)"/>
<rect x="1872.1" y="425.4" width="11.0" height="11.0" fill="#fff" filter="url(#bl1_8)"/>
<rect x="1895.5" y="425.4" width="11.0" height="11.0" fill="#fff" filter="url(#bl1_8)"/>
</g>
<rect x="1673.5" y="1.5" width="642.5" height="778.0" fill="none" stroke="#1B1819" stroke-width="3"/>
<g clip-path="url(#cpd)">
<g filter="url(#cmd)"><rect x="2347" y="-4.5" width="650.6999999999998" height="790.0" fill="#000"/>
<path d="M2534.0,134.0 L2568.0,238.0 L2608.0,330.0 L2638.0,397.0 L2658.0,418.0 L2714.0,418.0 L2732.0,397.0 L2769.0,330.0 L2807.0,238.0 L2836.0,136.0 L2774.0,130.0 L2746.0,188.0 L2712.0,230.0 L2686.0,246.0 L2660.0,230.0 L2624.0,188.0 L2594.0,130.0Z" fill="url(#g5)" filter="url(#bl13)"/>
<ellipse cx="2686" cy="315" rx="46" ry="50" fill="#fff" fill-opacity="0.2834" filter="url(#bl21)"/>
<path d="M2657.0,398.0 L2715.0,398.0 L2726.0,450.0 L2646.0,450.0Z" fill="#fff" fill-opacity="0.1962" filter="url(#bl13)"/>
<path d="M2680.7,422.0 C2656.4,422.4 2631.4,438.1 2608.3,450.5 C2585.2,462.9 2563.2,479.3 2542.3,496.6 C2521.3,513.8 2500.3,535.9 2482.7,554.1 C2465.0,572.2 2449.8,588.6 2436.3,605.6 C2422.8,622.6 2412.8,641.1 2401.8,656.2 C2390.8,671.4 2382.9,682.9 2370.3,696.4 C2357.8,709.9 2341.2,722.7 2326.3,737.4 C2311.4,752.2 2285.6,754.4 2280.7,784.8 C2275.8,815.2 2168.4,897.3 2297.1,919.8 C2425.8,942.3 2924.2,942.2 3052.9,919.8 C3181.6,897.3 3073.7,815.2 3069.4,785.0 C3065.1,754.9 3038.9,753.0 3027.1,738.9 C3015.2,724.7 3008.0,714.1 2998.3,700.4 C2988.5,686.7 2978.1,670.8 2968.5,656.8 C2959.0,642.8 2952.7,632.2 2941.2,616.3 C2929.7,600.4 2918.6,581.7 2899.6,561.4 C2880.6,541.0 2851.5,513.1 2827.3,494.2 C2803.0,475.4 2778.5,460.2 2754.1,448.2 C2729.6,436.1 2705.0,421.6 2680.7,422.0Z" fill="#fff" fill-opacity="0.6322" filter="url(#bl15)"/>
<path d="M2679.0,473.0 C2662.7,473.0 2648.2,481.9 2631.5,491.9 C2614.8,501.8 2596.5,517.1 2578.7,532.8 C2560.9,548.4 2540.4,568.9 2524.7,585.7 C2509.1,602.5 2495.1,617.7 2484.8,633.5 C2474.5,649.3 2470.7,666.8 2462.9,680.5 C2455.0,694.2 2448.1,704.0 2437.7,715.7 C2427.4,727.4 2412.4,739.5 2400.7,750.7 C2389.0,761.9 2381.0,769.4 2367.7,782.7 C2354.4,796.0 2328.9,811.0 2320.9,830.4 C2313.0,849.8 2201.9,887.6 2320.1,899.0 C2438.3,910.4 2911.7,912.1 3029.9,899.0 C3148.0,885.9 3036.2,840.4 3029.1,820.3 C3022.0,800.3 2999.7,792.0 2987.3,778.7 C2974.8,765.4 2964.7,753.6 2954.2,740.6 C2943.7,727.6 2933.5,713.9 2924.2,700.6 C2914.8,687.2 2909.2,676.1 2898.2,660.6 C2887.2,645.1 2876.1,627.6 2858.3,607.7 C2840.4,587.7 2812.8,560.0 2791.3,540.7 C2769.9,521.4 2748.2,503.1 2729.5,491.9 C2710.8,480.6 2695.3,473.0 2679.0,473.0Z" fill="#fff" fill-opacity="1.0" filter="url(#bl8)"/>
</g>
<ellipse cx="2708" cy="802" rx="222" ry="97" fill="#E02A55" filter="url(#bl10)"/>
<ellipse cx="2695" cy="778" rx="150" ry="20" fill="#8C1C30" filter="url(#bl11)"/>
<path d="M2986.2,8.0 C2985.8,15.5 2984.5,41.1 2983.6,53.0 C2982.7,64.9 2981.7,70.6 2981.0,79.4 C2980.3,88.2 2983.3,98.3 2979.6,105.8 C2975.8,113.3 2964.7,119.0 2958.5,124.3 C2952.3,129.6 2946.1,131.0 2942.6,137.6 C2939.1,144.2 2939.5,155.2 2937.3,164.0 C2935.1,172.8 2932.9,181.7 2929.4,190.5 C2925.9,199.3 2920.1,208.1 2916.1,216.9 C2912.1,225.7 2909.1,235.4 2905.6,243.4 C2902.1,251.4 2899.4,257.6 2895.0,264.6 C2890.6,271.7 2883.3,278.6 2879.1,285.7 C2874.9,292.8 2870.5,299.4 2869.8,306.9 C2869.1,314.4 2871.3,322.8 2875.1,330.7 C2878.8,338.6 2887.5,347.0 2892.3,354.5 C2897.2,362.0 2901.8,369.2 2904.2,375.7 C2906.6,382.2 2907.9,386.9 2907.0,393.4 C2906.1,399.9 2904.3,407.7 2899.0,414.8 C2893.7,421.9 2883.8,429.9 2874.9,436.2 C2866.0,442.4 2854.8,446.5 2845.4,452.3 C2836.0,458.1 2827.6,465.2 2818.7,471.0 C2809.8,476.8 2800.8,480.9 2791.9,487.1 C2783.0,493.4 2774.0,501.4 2765.1,508.5 C2756.2,515.6 2747.2,522.9 2738.3,530.0 C2729.4,537.1 2722.7,544.3 2711.5,551.4 C2700.3,558.5 2681.2,566.1 2671.4,572.8 C2661.6,579.5 2655.3,586.2 2652.6,591.6 C2649.9,597.0 2652.2,599.2 2655.3,605.0 C2658.4,610.8 2664.2,619.3 2671.4,626.4 C2678.6,633.5 2687.0,640.2 2698.2,647.8 C2709.3,655.4 2724.9,664.3 2738.3,671.9 C2751.7,679.5 2765.1,686.1 2778.5,693.3 C2791.9,700.4 2807.5,708.1 2818.7,714.8 C2829.8,721.5 2837.4,726.8 2845.4,733.5 C2853.4,740.2 2860.2,747.3 2866.9,754.9 C2873.6,762.5 2880.9,772.8 2885.6,779.0 C2890.3,785.2 2893.4,789.8 2895.0,792.0" fill="none" stroke="#C9273A" stroke-width="7.4" stroke-linecap="round" stroke-linejoin="round" filter="url(#bl0_8)"/>
<rect x="2469.0" y="351.5" width="11.0" height="11.0" fill="#fff" filter="url(#bl1_8)"/>
<rect x="2492.5" y="351.5" width="11.0" height="11.0" fill="#fff" filter="url(#bl1_8)"/>
<rect x="2515.5" y="351.5" width="11.0" height="11.0" fill="#fff" filter="url(#bl1_8)"/>
<rect x="2538.8" y="351.5" width="11.0" height="11.0" fill="#fff" filter="url(#bl1_8)"/>
<rect x="2562.3" y="351.5" width="11.0" height="11.0" fill="#fff" filter="url(#bl1_8)"/>
<rect x="2469.0" y="422.7" width="11.0" height="11.0" fill="#fff" filter="url(#bl1_8)"/>
<rect x="2492.5" y="422.7" width="11.0" height="11.0" fill="#fff" filter="url(#bl1_8)"/>
<rect x="2515.5" y="422.7" width="11.0" height="11.0" fill="#fff" filter="url(#bl1_8)"/>
<rect x="2538.8" y="422.7" width="11.0" height="11.0" fill="#fff" filter="url(#bl1_8)"/>
<rect x="2562.3" y="422.7" width="11.0" height="11.0" fill="#fff" filter="url(#bl1_8)"/>
</g>
<rect x="2353" y="1.5" width="638.6999999999998" height="778.0" fill="none" stroke="#1B1819" stroke-width="3"/>
<g clip-path="url(#cpe)">
<g filter="url(#cme)"><rect x="802.5" y="1002.5" width="769.2" height="778.8" fill="#000"/>
<path d="M868.0,1104.0 L1470.0,1104.0 L1322.0,1400.0 L1050.0,1400.0Z" fill="#fff" fill-opacity="0.3488" filter="url(#bl17)"/>
<path d="M1010.0,1085.0 L1360.0,1085.0 L1275.0,1215.0 L1185.0,1265.0 L1100.0,1215.0Z" fill="#000" fill-opacity="0.5" filter="url(#bl30)"/>
<ellipse cx="1180" cy="1325" rx="105" ry="38" fill="#fff" fill-opacity="0.2398" filter="url(#bl28)"/>
<path d="M1100.0,1380.0 L1266.0,1380.0 L1272.0,1462.0 L1094.0,1462.0Z" fill="#fff" fill-opacity="0.2834" filter="url(#bl20)"/>
<path d="M1179.6,1468.0 C1145.8,1468.7 1111.3,1481.3 1078.2,1493.2 C1045.1,1505.1 1013.1,1523.0 981.0,1539.1 C948.9,1555.3 922.2,1570.2 885.7,1590.3 C849.1,1610.4 783.7,1604.8 761.8,1659.6 C740.0,1714.4 612.5,1876.0 754.6,1919.3 C896.7,1962.6 1470.6,1957.0 1614.6,1919.5 C1758.7,1881.9 1631.3,1743.3 1619.1,1694.1 C1606.9,1644.8 1565.3,1643.6 1541.3,1624.2 C1517.3,1604.8 1502.3,1593.6 1475.1,1577.7 C1447.9,1561.8 1410.7,1543.6 1378.3,1528.8 C1346.0,1514.0 1314.1,1499.0 1280.9,1488.9 C1247.8,1478.8 1213.4,1467.3 1179.6,1468.0Z" fill="#fff" fill-opacity="0.6431" filter="url(#bl15)"/>
<path d="M1180.0,1526.0 C1148.2,1526.5 1116.4,1534.9 1084.7,1546.1 C1052.9,1557.2 1021.2,1575.6 989.5,1593.1 C957.8,1610.6 927.9,1629.8 894.5,1651.2 C861.1,1672.6 809.9,1679.9 789.1,1721.5 C768.3,1763.2 634.6,1871.1 769.8,1901.0 C905.0,1930.9 1462.9,1918.7 1600.1,1901.0 C1737.3,1883.3 1604.7,1826.3 1592.9,1794.6 C1581.2,1763.0 1551.0,1735.9 1529.8,1711.3 C1508.5,1686.8 1492.2,1668.3 1465.6,1647.2 C1439.1,1626.2 1402.2,1602.5 1370.5,1585.1 C1338.8,1567.8 1307.0,1552.9 1275.3,1543.0 C1243.5,1533.2 1211.8,1525.5 1180.0,1526.0Z" fill="#fff" fill-opacity="1.0" filter="url(#bl9)"/>
</g>
<ellipse cx="1350" cy="1781" rx="70" ry="5" fill="#E8509A" fill-opacity="0.8" filter="url(#bl3)"/>
<path d="M1560.5,1012.7 C1560.5,1020.1 1561.6,1045.4 1560.5,1057.0 C1559.4,1068.6 1559.4,1075.5 1554.1,1082.4 C1548.8,1089.3 1539.4,1091.3 1528.8,1098.2 C1518.2,1105.1 1499.7,1113.6 1490.7,1123.6 C1481.7,1133.6 1480.2,1146.2 1474.9,1158.4 C1469.6,1170.6 1464.9,1184.9 1459.1,1196.5 C1453.3,1208.1 1447.4,1217.5 1440.0,1228.1 C1432.6,1238.6 1422.6,1250.3 1414.7,1259.8 C1406.8,1269.3 1398.8,1276.8 1392.5,1285.2 C1386.2,1293.7 1379.8,1302.6 1376.7,1310.5 C1373.6,1318.4 1373.6,1326.4 1374.1,1332.7 C1374.6,1339.0 1375.1,1342.2 1379.8,1348.5 C1384.5,1354.8 1393.5,1362.3 1402.0,1370.7 C1410.5,1379.1 1425.0,1390.6 1430.5,1399.0 C1436.0,1407.4 1435.5,1413.8 1435.3,1421.2 C1435.0,1428.6 1434.5,1435.0 1429.0,1443.4 C1423.5,1451.9 1414.4,1462.9 1402.0,1471.9 C1389.6,1480.9 1373.0,1488.8 1354.5,1497.2 C1336.0,1505.7 1312.2,1513.6 1291.1,1522.6 C1270.0,1531.6 1246.3,1542.1 1227.8,1551.1 C1209.3,1560.1 1198.7,1567.0 1180.2,1576.5 C1161.7,1586.0 1138.0,1598.1 1116.9,1608.1 C1095.8,1618.1 1069.3,1629.3 1053.5,1636.7 C1037.7,1644.1 1028.8,1647.2 1021.8,1652.5 C1014.8,1657.8 1012.8,1663.0 1011.7,1668.3 C1010.7,1673.6 1010.6,1677.8 1015.5,1684.2 C1020.4,1690.6 1029.2,1698.5 1040.8,1706.4 C1052.4,1714.3 1069.9,1723.8 1085.2,1731.7 C1100.5,1739.6 1115.3,1747.0 1132.7,1753.9 C1150.1,1760.8 1176.0,1768.2 1189.7,1772.9 C1203.4,1777.6 1210.8,1780.5 1215.0,1782.0" fill="none" stroke="#C62C3C" stroke-width="5.2" stroke-linecap="round" stroke-linejoin="round" filter="url(#bl0_8)"/>
<rect x="922.7" y="1374.6" width="10.0" height="10.0" fill="#fff" filter="url(#bl1_8)"/>
<rect x="944.6" y="1374.6" width="10.0" height="10.0" fill="#fff" filter="url(#bl1_8)"/>
<rect x="966.7" y="1374.6" width="10.0" height="10.0" fill="#fff" filter="url(#bl1_8)"/>
<rect x="988.3" y="1374.6" width="10.0" height="10.0" fill="#fff" filter="url(#bl1_8)"/>
<rect x="1010.5" y="1374.6" width="10.0" height="10.0" fill="#fff" filter="url(#bl1_8)"/>
<rect x="1032.0" y="1374.6" width="10.0" height="10.0" fill="#fff" filter="url(#bl1_8)"/>
<rect x="922.7" y="1457.4" width="10.0" height="10.0" fill="#fff" filter="url(#bl1_8)"/>
<rect x="944.6" y="1457.4" width="10.0" height="10.0" fill="#fff" filter="url(#bl1_8)"/>
<rect x="966.7" y="1457.4" width="10.0" height="10.0" fill="#fff" filter="url(#bl1_8)"/>
<rect x="988.3" y="1457.4" width="10.0" height="10.0" fill="#fff" filter="url(#bl1_8)"/>
<rect x="1010.5" y="1457.4" width="10.0" height="10.0" fill="#fff" filter="url(#bl1_8)"/>
<rect x="1032.0" y="1457.4" width="10.0" height="10.0" fill="#fff" filter="url(#bl1_8)"/>
</g>
<rect x="808.5" y="1008.5" width="757.2" height="766.8" fill="none" stroke="#1B1819" stroke-width="3"/>
<g clip-path="url(#cpf)">
<g filter="url(#cmf)"><rect x="1752.5" y="998.5" width="765.0" height="780.0" fill="#000"/>
<path d="M1836.0,1100.0 L1896.0,1238.0 L1958.0,1317.0 L2040.0,1400.0 L2252.0,1400.0 L2302.0,1317.0 L2366.0,1222.0 L2426.0,1094.0Z" fill="#fff" fill-opacity="0.3924" filter="url(#bl20)"/>
<path d="M1985.0,1080.0 L2300.0,1080.0 L2262.0,1190.0 L2215.0,1240.0 L2146.0,1262.0 L2077.0,1240.0 L2030.0,1190.0Z" fill="#000" fill-opacity="0.48" filter="url(#bl26)"/>
<path d="M1985.0,1285.0 C1997.5,1291.7 2033.2,1315.5 2060.0,1325.0 C2086.8,1334.5 2117.3,1342.0 2146.0,1342.0 C2174.7,1342.0 2205.5,1334.5 2232.0,1325.0 C2258.5,1315.5 2292.8,1291.7 2305.0,1285.0" fill="none" stroke="#fff" stroke-opacity="0.2834" stroke-width="40" stroke-linecap="round" stroke-linejoin="round" filter="url(#bl20)"/>
<path d="M2043.0,1385.0 L2213.0,1385.0 L2225.0,1470.0 L2031.0,1470.0Z" fill="#fff" fill-opacity="0.3052" filter="url(#bl22)"/>
<path d="M2140.0,1455.0 C2106.7,1456.0 2073.3,1468.5 2040.0,1478.0 C2006.7,1487.5 1971.7,1499.7 1940.0,1512.0 C1908.3,1524.3 1884.2,1539.0 1850.0,1552.0 C1815.8,1565.0 1755.0,1532.0 1735.0,1590.0 C1715.0,1648.0 1595.8,1848.3 1730.0,1900.0 C1864.2,1951.7 2405.8,1949.0 2540.0,1900.0 C2674.2,1851.0 2553.3,1664.3 2535.0,1606.0 C2516.7,1547.7 2463.2,1567.0 2430.0,1550.0 C2396.8,1533.0 2367.7,1517.0 2336.0,1504.0 C2304.3,1491.0 2272.7,1480.2 2240.0,1472.0 C2207.3,1463.8 2173.3,1454.0 2140.0,1455.0Z" fill="#fff" fill-opacity="0.2725" filter="url(#bl22)"/>
<path d="M2139.3,1485.0 C2103.2,1486.1 2066.4,1504.1 2031.5,1516.5 C1996.6,1528.8 1961.6,1545.0 1929.8,1559.2 C1898.0,1573.4 1876.9,1585.9 1840.6,1601.8 C1804.3,1617.8 1731.7,1601.3 1712.1,1655.0 C1692.5,1708.7 1584.0,1879.1 1723.0,1924.0 C1862.0,1968.9 2407.1,1964.7 2546.3,1924.2 C2685.5,1883.7 2575.5,1734.8 2558.2,1680.8 C2541.0,1626.9 2478.0,1622.4 2442.8,1600.5 C2407.5,1578.6 2379.0,1564.4 2346.5,1549.3 C2314.0,1534.3 2282.1,1520.9 2247.5,1510.2 C2213.0,1499.4 2175.3,1484.0 2139.3,1485.0Z" fill="#fff" fill-opacity="0.5014" filter="url(#bl18)"/>
<path d="M2139.9,1560.0 C2116.0,1561.5 2094.4,1579.6 2066.2,1591.1 C2038.1,1602.7 1997.7,1617.5 1971.2,1629.2 C1944.6,1640.9 1928.2,1647.9 1906.9,1661.3 C1885.7,1674.7 1862.3,1693.6 1843.7,1709.5 C1825.1,1725.4 1809.0,1743.0 1795.6,1756.6 C1782.1,1770.2 1771.6,1767.1 1763.1,1791.3 C1754.6,1815.5 1616.0,1883.5 1744.7,1902.0 C1873.4,1920.4 2407.1,1920.4 2535.3,1902.0 C2663.5,1883.5 2521.5,1815.6 2513.9,1791.4 C2506.3,1767.2 2500.5,1770.4 2489.6,1756.7 C2478.6,1743.1 2465.8,1725.4 2448.3,1709.5 C2430.9,1693.6 2411.4,1676.7 2385.0,1661.3 C2358.6,1645.9 2319.0,1630.4 2289.8,1617.2 C2260.6,1604.0 2234.7,1591.7 2209.7,1582.1 C2184.7,1572.6 2163.8,1558.5 2139.9,1560.0Z" fill="#fff" fill-opacity="1.0" filter="url(#bl9)"/>
</g>
<path d="M2510.5,1031.7 C2510.0,1035.9 2511.0,1047.5 2507.3,1057.0 C2503.6,1066.5 2495.7,1078.1 2488.3,1088.7 C2480.9,1099.3 2472.4,1109.8 2462.9,1120.4 C2453.4,1131.0 2440.7,1141.5 2431.2,1152.1 C2421.7,1162.7 2411.4,1175.3 2405.9,1183.8 C2400.4,1192.2 2402.8,1194.3 2398.0,1202.8 C2393.2,1211.2 2386.1,1223.4 2377.4,1234.5 C2368.7,1245.6 2355.7,1259.3 2345.7,1269.3 C2335.7,1279.3 2324.9,1286.8 2317.2,1294.7 C2309.5,1302.6 2303.1,1310.6 2299.7,1316.9 C2296.3,1323.2 2295.8,1327.4 2296.6,1332.7 C2297.4,1338.0 2297.9,1341.6 2304.5,1348.5 C2311.1,1355.4 2326.7,1366.0 2336.2,1373.9 C2345.7,1381.8 2354.9,1387.9 2361.5,1395.8 C2368.1,1403.7 2374.2,1412.8 2375.8,1421.2 C2377.4,1429.7 2376.0,1438.0 2371.0,1446.5 C2366.0,1455.0 2356.8,1463.5 2345.7,1471.9 C2334.6,1480.4 2321.9,1488.2 2304.5,1497.2 C2287.1,1506.2 2262.2,1516.8 2241.1,1525.8 C2220.0,1534.8 2196.3,1541.6 2177.8,1551.1 C2159.3,1560.6 2146.0,1573.3 2130.2,1582.8 C2114.3,1592.3 2098.5,1600.2 2082.7,1608.1 C2066.9,1616.0 2047.9,1622.9 2035.2,1630.3 C2022.5,1637.7 2013.1,1645.6 2006.7,1652.5 C2000.3,1659.4 1998.2,1665.2 1997.1,1671.5 C1996.0,1677.8 1993.9,1682.6 2000.3,1690.5 C2006.7,1698.4 2025.7,1712.1 2035.2,1719.0 C2044.7,1725.9 2049.5,1726.4 2057.4,1731.7 C2065.3,1737.0 2073.2,1744.4 2082.7,1750.7 C2092.2,1757.0 2105.7,1764.8 2114.4,1769.7 C2123.1,1774.6 2131.6,1778.3 2135.0,1780.0" fill="none" stroke="#C62C3C" stroke-width="5.2" stroke-linecap="round" stroke-linejoin="round" filter="url(#bl0_8)"/>
<rect x="1891.4" y="1377.8" width="10.0" height="10.0" fill="#fff" filter="url(#bl1_8)"/>
<rect x="1913.6" y="1377.8" width="10.0" height="10.0" fill="#fff" filter="url(#bl1_8)"/>
<rect x="1935.7" y="1377.8" width="10.0" height="10.0" fill="#fff" filter="url(#bl1_8)"/>
<rect x="1957.9" y="1377.8" width="10.0" height="10.0" fill="#fff" filter="url(#bl1_8)"/>
<rect x="1980.1" y="1377.8" width="10.0" height="10.0" fill="#fff" filter="url(#bl1_8)"/>
<rect x="2002.3" y="1377.8" width="10.0" height="10.0" fill="#fff" filter="url(#bl1_8)"/>
<rect x="1891.4" y="1459.9" width="10.0" height="10.0" fill="#fff" filter="url(#bl1_8)"/>
<rect x="1913.6" y="1459.9" width="10.0" height="10.0" fill="#fff" filter="url(#bl1_8)"/>
<rect x="1935.7" y="1459.9" width="10.0" height="10.0" fill="#fff" filter="url(#bl1_8)"/>
<rect x="1957.9" y="1459.9" width="10.0" height="10.0" fill="#fff" filter="url(#bl1_8)"/>
<rect x="1980.1" y="1459.9" width="10.0" height="10.0" fill="#fff" filter="url(#bl1_8)"/>
<rect x="2002.3" y="1459.9" width="10.0" height="10.0" fill="#fff" filter="url(#bl1_8)"/>
</g>
<rect x="1758.5" y="1004.5" width="753.0" height="768.0" fill="none" stroke="#1B1819" stroke-width="3"/>
<rect x="388.9" y="780" width="3" height="12.5" fill="#231F20"/>
<rect x="515.2" y="780" width="3" height="12.5" fill="#231F20"/>
<rect x="641.1" y="780" width="3" height="12.5" fill="#231F20"/>
<rect x="767.1" y="780" width="3" height="12.5" fill="#231F20"/>
<rect x="894.2" y="780" width="3" height="12.5" fill="#231F20"/>
<rect x="1058.8" y="780" width="3" height="12.5" fill="#231F20"/>
<rect x="1186.1" y="780" width="3" height="12.5" fill="#231F20"/>
<rect x="1312.5" y="780" width="3" height="12.5" fill="#231F20"/>
<rect x="1440.4" y="780" width="3" height="12.5" fill="#231F20"/>
<rect x="1567.8" y="780" width="3" height="12.5" fill="#231F20"/>
<rect x="1734.8" y="780" width="3" height="12.5" fill="#231F20"/>
<rect x="1863.0" y="780" width="3" height="12.5" fill="#231F20"/>
<rect x="1990.9" y="780" width="3" height="12.5" fill="#231F20"/>
<rect x="2118.9" y="780" width="3" height="12.5" fill="#231F20"/>
<rect x="2247.1" y="780" width="3" height="12.5" fill="#231F20"/>
<rect x="2414.8" y="780" width="3" height="12.5" fill="#231F20"/>
<rect x="2541.8" y="780" width="3" height="12.5" fill="#231F20"/>
<rect x="2668.8" y="780" width="3" height="12.5" fill="#231F20"/>
<rect x="2795.8" y="780" width="3" height="12.5" fill="#231F20"/>
<rect x="2923.7" y="780" width="3" height="12.5" fill="#231F20"/>
<text transform="translate(328.27,836) scale(1.0205,1)" font-size="50" fill="#231F20">−0.2</text>
<text transform="translate(457.51,836) scale(0.9629,1)" font-size="50" fill="#231F20">−0.1</text>
<text transform="translate(623.82,836) scale(0.9458,1)" font-size="50" fill="#231F20">0</text>
<text transform="translate(731.96,836) scale(0.8720,1)" font-size="50" fill="#231F20">0.1</text>
<text transform="translate(859.80,836) scale(0.9579,1)" font-size="50" fill="#231F20">0.2</text>
<text transform="translate(1003.27,836) scale(1.0226,1)" font-size="50" fill="#231F20">−0.2</text>
<text transform="translate(1132.88,836) scale(0.9736,1)" font-size="50" fill="#231F20">−0.1</text>
<text transform="translate(1298.51,836) scale(0.9500,1)" font-size="50" fill="#231F20">0</text>
<text transform="translate(1406.73,836) scale(0.8874,1)" font-size="50" fill="#231F20">0.1</text>
<text transform="translate(1536.06,836) scale(0.9793,1)" font-size="50" fill="#231F20">0.2</text>
<text transform="translate(1682.65,836) scale(1.0279,1)" font-size="50" fill="#231F20">−0.2</text>
<text transform="translate(1811.30,836) scale(0.9672,1)" font-size="50" fill="#231F20">−0.1</text>
<text transform="translate(1977.76,836) scale(0.9792,1)" font-size="50" fill="#231F20">0</text>
<text transform="translate(2086.13,836) scale(0.8858,1)" font-size="50" fill="#231F20">0.1</text>
<text transform="translate(2213.86,836) scale(0.9808,1)" font-size="50" fill="#231F20">0.2</text>
<text transform="translate(2363.24,836) scale(1.0322,1)" font-size="50" fill="#231F20">−0.2</text>
<text transform="translate(2491.24,836) scale(0.9896,1)" font-size="50" fill="#231F20">−0.1</text>
<text transform="translate(2658.66,836) scale(0.9792,1)" font-size="50" fill="#231F20">0</text>
<text transform="translate(2766.13,836) scale(0.8858,1)" font-size="50" fill="#231F20">0.1</text>
<text transform="translate(2894.76,836) scale(0.9808,1)" font-size="50" fill="#231F20">0.2</text>
<text transform="translate(414.00,906) scale(0.9965,1)" font-size="50" fill="#231F20">Wave vector <tspan font-style="italic">K</tspan><tspan font-size="30" dy="13">II</tspan><tspan dy="-13"> (Å</tspan><tspan font-size="30" dy="-17">−1</tspan><tspan dy="17">)</tspan></text>
<text transform="translate(1086.01,906) scale(0.9929,1)" font-size="50" fill="#231F20">Wave vector <tspan font-style="italic">K</tspan><tspan font-size="30" dy="13">II</tspan><tspan dy="-13"> (Å</tspan><tspan font-size="30" dy="-17">−1</tspan><tspan dy="17">)</tspan></text>
<text transform="translate(1769.41,906) scale(0.9907,1)" font-size="50" fill="#231F20">Wave vector <tspan font-style="italic">K</tspan><tspan font-size="30" dy="13">II</tspan><tspan dy="-13"> (Å</tspan><tspan font-size="30" dy="-17">−1</tspan><tspan dy="17">)</tspan></text>
<text transform="translate(2446.31,906) scale(0.9927,1)" font-size="50" fill="#231F20">Wave vector <tspan font-style="italic">K</tspan><tspan font-size="30" dy="13">II</tspan><tspan dy="-13"> (Å</tspan><tspan font-size="30" dy="-17">−1</tspan><tspan dy="17">)</tspan></text>
<rect x="944.7" y="1776" width="3" height="12.5" fill="#231F20"/>
<rect x="1185.1" y="1776" width="3" height="12.5" fill="#231F20"/>
<rect x="1424.3" y="1776" width="3" height="12.5" fill="#231F20"/>
<rect x="1894.7" y="1773" width="3" height="12.5" fill="#231F20"/>
<rect x="2133.1" y="1773" width="3" height="12.5" fill="#231F20"/>
<rect x="2370.7" y="1773" width="3" height="12.5" fill="#231F20"/>
<text transform="translate(898.70,1838) scale(0.9651,1)" font-size="50" fill="#231F20">−0.1</text>
<text transform="translate(1171.29,1838) scale(1.0167,1)" font-size="50" fill="#231F20">0</text>
<text transform="translate(1388.06,1838) scale(0.8720,1)" font-size="50" fill="#231F20">0.1</text>
<text transform="translate(1852.11,1838) scale(0.9640,1)" font-size="50" fill="#231F20">−0.1</text>
<text transform="translate(2124.99,1838) scale(1.0167,1)" font-size="50" fill="#231F20">0</text>
<text transform="translate(2342.56,1838) scale(0.8720,1)" font-size="50" fill="#231F20">0.1</text>
<text transform="translate(961.41,1908) scale(0.9898,1)" font-size="50" fill="#231F20">Wave vector <tspan font-style="italic">K</tspan><tspan font-size="30" dy="13">II</tspan><tspan dy="-13"> (Å</tspan><tspan font-size="30" dy="-17">−1</tspan><tspan dy="17">)</tspan></text>
<text transform="translate(1909.41,1908) scale(0.9907,1)" font-size="50" fill="#231F20">Wave vector <tspan font-style="italic">K</tspan><tspan font-size="30" dy="13">II</tspan><tspan dy="-13"> (Å</tspan><tspan font-size="30" dy="-17">−1</tspan><tspan dy="17">)</tspan></text>
<rect x="311.5" y="114.7" width="12" height="3" fill="#231F20"/>
<text transform="translate(275.52,132.0) scale(1.0000,1)" font-size="50" fill="#231F20">0</text>
<rect x="311.5" y="270.4" width="12" height="3" fill="#231F20"/>
<text transform="translate(234.27,287.7) scale(1.0000,1)" font-size="50" fill="#231F20">0.2</text>
<rect x="311.5" y="426.5" width="12" height="3" fill="#231F20"/>
<text transform="translate(233.27,443.8) scale(1.0000,1)" font-size="50" fill="#231F20">0.4</text>
<rect x="311.5" y="581.4" width="12" height="3" fill="#231F20"/>
<text transform="translate(234.02,598.6999999999999) scale(1.0000,1)" font-size="50" fill="#231F20">0.6</text>
<rect x="311.5" y="737.1" width="12" height="3" fill="#231F20"/>
<text transform="translate(233.90,754.4) scale(1.0000,1)" font-size="50" fill="#231F20">0.8</text>
<rect x="796" y="1100.8" width="12" height="3" fill="#231F20"/>
<text transform="translate(749.72,1118.1) scale(1.0000,1)" font-size="50" fill="#231F20">0</text>
<rect x="796" y="1281.5" width="12" height="3" fill="#231F20"/>
<text transform="translate(708.47,1298.8) scale(1.0000,1)" font-size="50" fill="#231F20">0.2</text>
<rect x="796" y="1462.2" width="12" height="3" fill="#231F20"/>
<text transform="translate(707.47,1479.5) scale(1.0000,1)" font-size="50" fill="#231F20">0.4</text>
<rect x="796" y="1642.9" width="12" height="3" fill="#231F20"/>
<text transform="translate(708.22,1660.2) scale(1.0000,1)" font-size="50" fill="#231F20">0.6</text>
<rect x="1746" y="1097.5" width="12" height="3" fill="#231F20"/>
<text transform="translate(1703.02,1114.8) scale(1.0000,1)" font-size="50" fill="#231F20">0</text>
<rect x="1746" y="1277.0" width="12" height="3" fill="#231F20"/>
<text transform="translate(1661.77,1294.3) scale(1.0000,1)" font-size="50" fill="#231F20">0.2</text>
<rect x="1746" y="1456.5" width="12" height="3" fill="#231F20"/>
<text transform="translate(1660.77,1473.8) scale(1.0000,1)" font-size="50" fill="#231F20">0.4</text>
<rect x="1746" y="1636.0" width="12" height="3" fill="#231F20"/>
<text transform="translate(1661.52,1653.3) scale(1.0000,1)" font-size="50" fill="#231F20">0.6</text>
<text transform="translate(204,389.5) rotate(-90) scale(1.0453,1)" font-size="50" text-anchor="middle" fill="#231F20">Electron binding energy (eV)</text>
<text transform="translate(682,1391.0) rotate(-90) scale(1.0437,1)" font-size="50" text-anchor="middle" fill="#231F20">Electron binding energy (eV)</text>
<text transform="translate(350.87,56) scale(0.9434,1)" font-size="50" fill="#fff">(a)</text>
<text transform="translate(1034.46,56) scale(1.0468,1)" font-size="50" fill="#fff">(b)</text>
<text transform="translate(1701.44,56) scale(0.9876,1)" font-size="50" fill="#fff">(c)</text>
<text transform="translate(2373.37,56) scale(1.0432,1)" font-size="50" fill="#fff">(d)</text>
<text transform="translate(1465.09,1065.5) scale(0.9706,1)" font-size="50" fill="#fff">(e)</text>
<text transform="translate(2418.39,1065.5) scale(1.1357,1)" font-size="50" fill="#fff">(f)</text>
<text transform="translate(876.3,1089) scale(0.936,1)" font-size="52" fill="#fff"><tspan font-style="italic">T</tspan> = 12 K</text>
<text transform="translate(1812.1,1089) scale(0.945,1)" font-size="52" fill="#fff"><tspan font-style="italic">T</tspan> = 300 K</text>
</svg>
</body></html>
